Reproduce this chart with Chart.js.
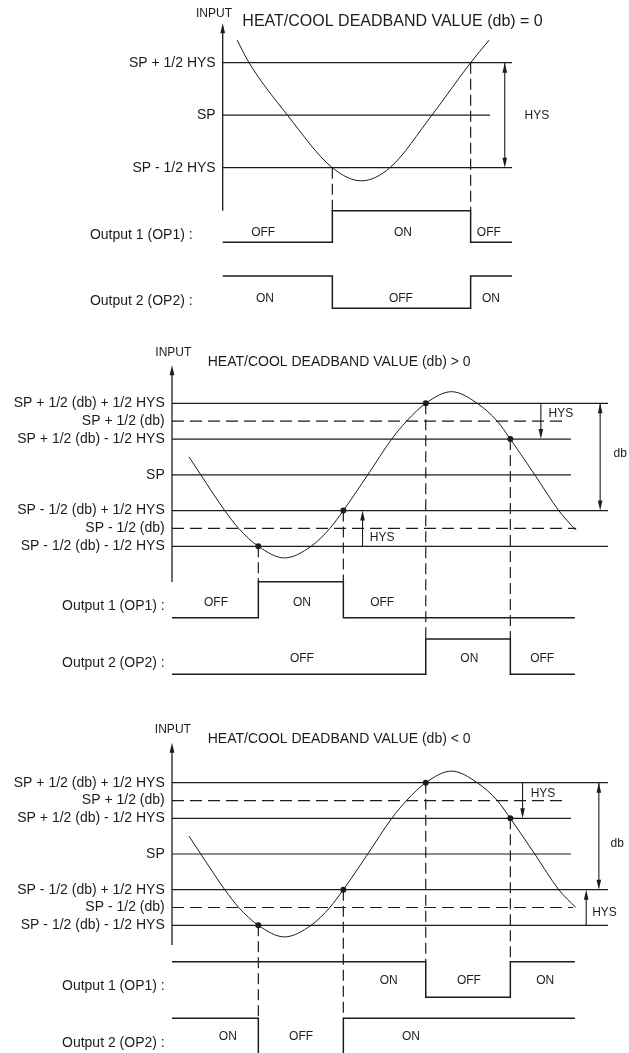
<!DOCTYPE html>
<html>
<head>
<meta charset="utf-8">
<script src="https://cdn.jsdelivr.net/npm/chart.js@4/dist/chart.umd.min.js"></script>
<style>
  html, body { margin: 0; padding: 0; background: #fff; }
  #wrap { position: relative; width: 629px; height: 1053px; overflow: hidden; }
  #wrap canvas { position: absolute; left: 0; }
</style>
</head>
<body>
<div id="wrap">
  <canvas id="p1" width="629" height="330" style="top:0px"></canvas>
  <canvas id="p2" width="629" height="360" style="top:330px"></canvas>
  <canvas id="p3" width="629" height="363" style="top:690px"></canvas>
</div>
<script>
// Levels are in units of 1/2 HYS around SP, time runs 0..100 along each panel.
// Output states: 1 = high line, 0 = low line.

// --- Panel 1: db = 0 ---
const p1Title = 'HEAT/COOL DEADBAND VALUE (db) = 0';
const p1LevelNames = ['SP + 1/2 HYS', 'SP', 'SP - 1/2 HYS'];
const p1LevelValues = [1, 0, -1];
const p1LevelDashed = [false, false, false];
const p1LevelEnd = [100, 92.4, 100];
const p1CurveT = [5.0, 9.1, 22.4, 37.9, 48.0, 57.8, 72.3, 85.7, 92.1];
const p1CurveL = [1.43, 1, 0, -1, -1.25, -1, 0, 1, 1.43];
const p1DotT = [];
const p1DotL = [];
const p1ProjT = [37.9, 85.7];
const p1ProjL = [-1, 1];
const p1ProjTo = ['op1', 'op1'];
const p1Op1T = [0, 37.9, 85.7, 100];
const p1Op1S = [0, 1, 0, 0];
const p1Op2T = [0, 37.9, 85.7, 100];
const p1Op2S = [1, 0, 1, 1];
const p1Op1Text = ['OFF', 'ON', 'OFF'];
const p1Op1TextT = [14.0, 62.3, 92.0];
const p1Op2Text = ['ON', 'OFF', 'ON'];
const p1Op2TextT = [14.6, 61.6, 92.7];
const p1ArrowT = [97.5];
const p1ArrowFrom = [1];
const p1ArrowTo = [-1];
const p1ArrowBoth = [true];
const p1NoteText = ['HYS'];
const p1NoteT = [108.6];
const p1NoteL = [0];

// --- Panel 2: db > 0 ---
const p2Title = 'HEAT/COOL DEADBAND VALUE (db) > 0';
const p2LevelNames = ['SP + 1/2 (db) + 1/2 HYS', 'SP + 1/2 (db)', 'SP + 1/2 (db) - 1/2 HYS', 'SP',
                      'SP - 1/2 (db) + 1/2 HYS', 'SP - 1/2 (db)', 'SP - 1/2 (db) - 1/2 HYS'];
const p2LevelValues = [4, 3, 2, 0, -2, -3, -4];
const p2LevelDashed = [false, true, false, false, false, true, false];
const p2LevelEnd = [100, 90.6, 91.5, 91.5, 100, 92.7, 100];
const p2CurveT = [3.9, 6.6, 12.1, 15.3, 19.8, 25.8, 31.9, 36.2, 39.3, 44.9,
                  50.4, 53.8, 58.2, 64.1, 70.0, 74.6, 77.6, 83.2, 88.7, 92.6];
const p2CurveL = [1.0, 0, -2, -3, -4, -4.65, -4, -3, -2, 0,
                  2, 3, 4, 4.65, 4, 3, 2, 0, -2, -3.1];
const p2DotT = [19.8, 39.3, 58.2, 77.6];
const p2DotL = [-4, -2, 4, 2];
const p2ProjT = [19.8, 39.3, 58.2, 77.6];
const p2ProjL = [-4, -2, 4, 2];
const p2ProjTo = ['op1', 'op1', 'op2', 'op2'];
const p2Op1T = [0, 19.8, 39.3, 92.4];
const p2Op1S = [0, 1, 0, 0];
const p2Op2T = [0, 58.2, 77.6, 92.4];
const p2Op2S = [0, 1, 0, 0];
const p2Op1Text = ['OFF', 'ON', 'OFF'];
const p2Op1TextT = [10.1, 29.8, 48.2];
const p2Op2Text = ['OFF', 'ON', 'OFF'];
const p2Op2TextT = [29.8, 68.2, 84.9];
const p2ArrowT = [84.6, 43.7, 98.2];
const p2ArrowFrom = [4, -4, 4];
const p2ArrowTo = [2, -2, -2];
const p2ArrowBoth = [false, false, true];
const p2NoteText = ['HYS', 'HYS', 'db'];
const p2NoteT = [89.2, 48.2, 102.8];
const p2NoteL = [3.41, -3.52, 1.17];

// --- Panel 3: db < 0 ---
const p3Title = 'HEAT/COOL DEADBAND VALUE (db) < 0';
const p3LevelNames = ['SP + 1/2 (db) + 1/2 HYS', 'SP + 1/2 (db)', 'SP + 1/2 (db) - 1/2 HYS', 'SP',
                      'SP - 1/2 (db) + 1/2 HYS', 'SP - 1/2 (db)', 'SP - 1/2 (db) - 1/2 HYS'];
const p3LevelValues = [4, 3, 2, 0, -2, -3, -4];
const p3LevelDashed = [false, true, false, false, false, true, false];
const p3LevelEnd = [100, 90.7, 91.5, 91.5, 100, 92.0, 100];
const p3CurveT = [3.9, 6.6, 12.1, 15.3, 19.8, 25.8, 31.9, 36.2, 39.3, 44.9,
                  50.4, 53.8, 58.2, 64.1, 70.0, 74.6, 77.6, 83.2, 88.7, 92.6];
const p3CurveL = [1.0, 0, -2, -3, -4, -4.65, -4, -3, -2, 0,
                  2, 3, 4, 4.65, 4, 3, 2, 0, -2, -3.0];
const p3DotT = [19.8, 39.3, 58.2, 77.6];
const p3DotL = [-4, -2, 4, 2];
const p3ProjT = [19.8, 39.3, 58.2, 77.6];
const p3ProjL = [-4, -2, 4, 2];
const p3ProjTo = ['op2', 'op2', 'op1', 'op1'];
const p3Op1T = [0, 58.2, 77.6, 92.4];
const p3Op1S = [1, 0, 1, 1];
const p3Op2T = [0, 19.8, 39.3, 92.4];
const p3Op2S = [1, 0, 1, 1];
const p3Op1Text = ['ON', 'OFF', 'ON'];
const p3Op1TextT = [49.7, 68.1, 85.6];
const p3Op2Text = ['ON', 'OFF', 'ON'];
const p3Op2TextT = [12.8, 29.6, 54.8];
const p3ArrowT = [80.4, 95.0, 97.9];
const p3ArrowFrom = [4, -4, 4];
const p3ArrowTo = [2, -2, -2];
const p3ArrowBoth = [false, false, true];
const p3NoteText = ['HYS', 'HYS', 'db'];
const p3NoteT = [85.1, 99.2, 102.1];
const p3NoteL = [3.37, -3.29, 0.6];

const outNames = ['Output 1 (OP1) :', 'Output 2 (OP2) :'];

// --- drawing setup ---
const W = 629;
const INK = '#1c1c1c';
const FONT = '"Liberation Sans", Arial, Helvetica, sans-serif';

// pixel anchors of each panel: [px, value, px, value]
const layouts = {
  p1: { h: 330, x: [222.7, 0, 512, 100], lvl: [62.7, 1, 167.7, -1],
        op1: [210.7, 1, 242.3, 0], op2: [276, 1, 308.3, 0],
        axisTop: 1.75, axisBottom: -1.82, levelLabelT: -2.42, nameT: -10.4,
        nameState: 0.22, textState: 0.31, titleSize: 16,
        inputT: -3.0, inputL: 1.93, titleT: 6.8, titleL: 1.78 },
  p2: { h: 360, x: [172, 0, 608, 100], lvl: [73.3, 4, 216.3, -4],
        op1: [251.7, 1, 287.7, 0], op2: [309, 1, 344.3, 0],
        axisTop: 6.13, axisBottom: -6.0, levelLabelT: -1.67, nameT: -1.67,
        nameState: 0.33, textState: 0.43, titleSize: 14,
        inputT: 0.3, inputL: 6.85, titleT: 8.2, titleL: 6.31 },
  p3: { h: 363, x: [172, 0, 608, 100], lvl: [92.7, 4, 235.3, -4],
        op1: [271.7, 1, 307.3, 0], op2: [328.3, 1, 363.9, 0],
        axisTop: 6.24, axisBottom: -5.1, levelLabelT: -1.67, nameT: -1.67,
        nameState: 0.3, textState: 0.47, titleSize: 14,
        inputT: 0.2, inputL: 6.95, titleT: 8.2, titleL: 6.42 }
};

const panels = {
  p1: {
    title: p1Title, levelNames: p1LevelNames, levelValues: p1LevelValues,
    levelDashed: p1LevelDashed, levelEnd: p1LevelEnd,
    curveT: p1CurveT, curveL: p1CurveL, dotT: p1DotT, dotL: p1DotL,
    projT: p1ProjT, projL: p1ProjL, projTo: p1ProjTo,
    op1T: p1Op1T, op1S: p1Op1S, op2T: p1Op2T, op2S: p1Op2S,
    op1Text: p1Op1Text, op1TextT: p1Op1TextT, op2Text: p1Op2Text, op2TextT: p1Op2TextT,
    arrowT: p1ArrowT, arrowFrom: p1ArrowFrom, arrowTo: p1ArrowTo, arrowBoth: p1ArrowBoth,
    noteText: p1NoteText, noteT: p1NoteT, noteL: p1NoteL
  },
  p2: {
    title: p2Title, levelNames: p2LevelNames, levelValues: p2LevelValues,
    levelDashed: p2LevelDashed, levelEnd: p2LevelEnd,
    curveT: p2CurveT, curveL: p2CurveL, dotT: p2DotT, dotL: p2DotL,
    projT: p2ProjT, projL: p2ProjL, projTo: p2ProjTo,
    op1T: p2Op1T, op1S: p2Op1S, op2T: p2Op2T, op2S: p2Op2S,
    op1Text: p2Op1Text, op1TextT: p2Op1TextT, op2Text: p2Op2Text, op2TextT: p2Op2TextT,
    arrowT: p2ArrowT, arrowFrom: p2ArrowFrom, arrowTo: p2ArrowTo, arrowBoth: p2ArrowBoth,
    noteText: p2NoteText, noteT: p2NoteT, noteL: p2NoteL
  },
  p3: {
    title: p3Title, levelNames: p3LevelNames, levelValues: p3LevelValues,
    levelDashed: p3LevelDashed, levelEnd: p3LevelEnd,
    curveT: p3CurveT, curveL: p3CurveL, dotT: p3DotT, dotL: p3DotL,
    projT: p3ProjT, projL: p3ProjL, projTo: p3ProjTo,
    op1T: p3Op1T, op1S: p3Op1S, op2T: p3Op2T, op2S: p3Op2S,
    op1Text: p3Op1Text, op1TextT: p3Op1TextT, op2Text: p3Op2Text, op2TextT: p3Op2TextT,
    arrowT: p3ArrowT, arrowFrom: p3ArrowFrom, arrowTo: p3ArrowTo, arrowBoth: p3ArrowBoth,
    noteText: p3NoteText, noteT: p3NoteT, noteL: p3NoteL
  }
};

function zip(ts, vs) {
  return ts.map((t, i) => ({ x: t, y: vs[i] }));
}

// linear scale whose value->pixel map passes through two anchors
function fit(pxA, vA, pxB, vB, size) {
  const k = (pxB - pxA) / (vB - vA);
  const v0 = vA - pxA / k;
  const v1 = vA + (size - pxA) / k;
  return { type: 'linear', display: false, bounds: 'data', grace: 0,
           min: Math.min(v0, v1), max: Math.max(v0, v1), ticks: { display: false } };
}

function makeDatasets(d) {
  const sets = [];
  d.levelValues.forEach((v, i) => {
    sets.push({
      data: [{ x: 0, y: v }, { x: d.levelEnd[i], y: v }],
      yAxisID: 'lvl', borderColor: INK, borderWidth: 1.2,
      borderDash: d.levelDashed[i] ? [12, 6] : [],
      pointRadius: 0, pointHoverRadius: 0, clip: false
    });
  });
  sets.push({
    data: zip(d.curveT, d.curveL), yAxisID: 'lvl',
    borderColor: INK, borderWidth: 1, cubicInterpolationMode: 'monotone',
    pointRadius: 0, pointHoverRadius: 0, clip: false
  });
  sets.push({ data: zip(d.op1T, d.op1S), yAxisID: 'op1', stepped: true,
              borderColor: INK, borderWidth: 1.5, pointRadius: 0, pointHoverRadius: 0, clip: false });
  sets.push({ data: zip(d.op2T, d.op2S), yAxisID: 'op2', stepped: true,
              borderColor: INK, borderWidth: 1.5, pointRadius: 0, pointHoverRadius: 0, clip: false });
  if (d.dotT.length) {
    sets.push({ data: zip(d.dotT, d.dotL), yAxisID: 'lvl', showLine: false,
                pointRadius: 3, pointHoverRadius: 3, pointBackgroundColor: INK,
                pointBorderWidth: 0, clip: false });
  }
  return sets;
}

function vline(ctx, x, y1, y2, w) {
  ctx.lineWidth = w;
  ctx.beginPath();
  ctx.moveTo(x, y1);
  ctx.lineTo(x, y2);
  ctx.stroke();
}

// filled arrowhead with its tip at (x, tip); dir = +1 points down, -1 up
function head(ctx, x, tip, dir, len, hw) {
  ctx.beginPath();
  ctx.moveTo(x, tip);
  ctx.lineTo(x - hw, tip - dir * len);
  ctx.lineTo(x + hw, tip - dir * len);
  ctx.closePath();
  ctx.fill();
}

function label(ctx, str, x, y, size, align) {
  ctx.font = size + 'px ' + FONT;
  ctx.textAlign = align;
  ctx.textBaseline = 'middle';
  ctx.fillText(str, x, y);
}

function diagramPlugin(d, lay) {
  return {
    id: 'diagram',
    beforeDatasetsDraw(chart) {
      const ctx = chart.ctx;
      const sx = chart.scales.x, lv = chart.scales.lvl;
      ctx.save();
      ctx.strokeStyle = INK;
      ctx.fillStyle = INK;
      // INPUT axis with arrow
      const ax = sx.getPixelForValue(0);
      const top = lv.getPixelForValue(lay.axisTop);
      vline(ctx, ax, lv.getPixelForValue(lay.axisBottom), top + 4, 1.3);
      head(ctx, ax, top, -1, 10, 2.4);
      // dashed projections down to the outputs
      ctx.setLineDash([11, 5]);
      d.projT.forEach((t, i) => {
        const x = sx.getPixelForValue(t);
        vline(ctx, x, lv.getPixelForValue(d.projL[i]),
              chart.scales[d.projTo[i]].getPixelForValue(1), 1.2);
      });
      ctx.restore();
    },
    afterDatasetsDraw(chart) {
      const ctx = chart.ctx;
      const sx = chart.scales.x, lv = chart.scales.lvl;
      const o1 = chart.scales.op1, o2 = chart.scales.op2;
      ctx.save();
      ctx.strokeStyle = INK;
      ctx.fillStyle = INK;
      // HYS / db arrows
      d.arrowT.forEach((t, i) => {
        const x = sx.getPixelForValue(t);
        const yA = lv.getPixelForValue(d.arrowFrom[i]);
        const yB = lv.getPixelForValue(d.arrowTo[i]);
        const dir = yB > yA ? 1 : -1;
        vline(ctx, x, yA, yB - dir * 4, 1.1);
        head(ctx, x, yB, dir, 10, 2.3);
        if (d.arrowBoth[i]) head(ctx, x, yA, -dir, 10, 2.3);
      });
      // texts
      label(ctx, 'INPUT', sx.getPixelForValue(lay.inputT), lv.getPixelForValue(lay.inputL), 12, 'center');
      label(ctx, d.title, sx.getPixelForValue(lay.titleT), lv.getPixelForValue(lay.titleL), lay.titleSize, 'left');
      d.levelNames.forEach((n, i) => {
        label(ctx, n, sx.getPixelForValue(lay.levelLabelT), lv.getPixelForValue(d.levelValues[i]), 14, 'right');
      });
      label(ctx, outNames[0], sx.getPixelForValue(lay.nameT), o1.getPixelForValue(lay.nameState), 14, 'right');
      label(ctx, outNames[1], sx.getPixelForValue(lay.nameT), o2.getPixelForValue(lay.nameState), 14, 'right');
      d.op1Text.forEach((s, i) => {
        label(ctx, s, sx.getPixelForValue(d.op1TextT[i]), o1.getPixelForValue(lay.textState), 12, 'center');
      });
      d.op2Text.forEach((s, i) => {
        label(ctx, s, sx.getPixelForValue(d.op2TextT[i]), o2.getPixelForValue(lay.textState), 12, 'center');
      });
      d.noteText.forEach((s, i) => {
        label(ctx, s, sx.getPixelForValue(d.noteT[i]), lv.getPixelForValue(d.noteL[i]), 12, 'center');
      });
      ctx.restore();
    }
  };
}

['p1', 'p2', 'p3'].forEach(p => {
  const d = panels[p];
  const lay = layouts[p];
  const yScale = a => Object.assign(fit(a[0], a[1], a[2], a[3], lay.h), { axis: 'y', position: 'left' });
  new Chart(document.getElementById(p), {
    type: 'line',
    data: { datasets: makeDatasets(d) },
    options: {
      responsive: false,
      animation: false,
      events: [],
      layout: { padding: 0, autoPadding: false },
      plugins: { legend: { display: false }, tooltip: { enabled: false } },
      scales: {
        x: Object.assign(fit(lay.x[0], lay.x[1], lay.x[2], lay.x[3], W), { axis: 'x', position: 'bottom' }),
        lvl: yScale(lay.lvl),
        op1: yScale(lay.op1),
        op2: yScale(lay.op2)
      }
    },
    plugins: [diagramPlugin(d, lay)]
  });
});
</script>
</body>
</html>
